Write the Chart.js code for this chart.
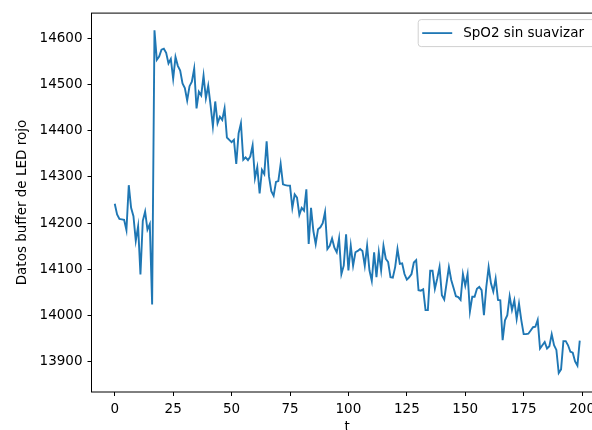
<!DOCTYPE html>
<html>
<head>
<meta charset="utf-8">
<script src="https://cdn.jsdelivr.net/npm/chart.js@4/dist/chart.umd.min.js"></script>
<style>
  html, body { margin: 0; padding: 0; background: #fff; overflow: hidden; }
  #wrap { width: 592px; height: 430px; overflow: hidden; }
</style>
</head>
<body>
<div id="wrap"><canvas id="spo2Chart" width="620" height="440"></canvas></div>
<script>
// values (t = 0..199)
const spo2Raw = [
  14242, 14219, 14209, 14208, 14207, 14185, 14282, 14233, 14215, 14162,
  14193, 14089, 14205, 14225, 14186, 14198, 14024, 14617, 14553, 14560,
  14575, 14577, 14568, 14545, 14555, 14512, 14559, 14540, 14530, 14502,
  14492, 14465, 14496, 14506, 14534, 14448, 14484, 14476, 14519, 14470,
  14497, 14455, 14409, 14463, 14416, 14430, 14423, 14448, 14385, 14380,
  14375, 14380, 14328, 14394, 14416, 14337, 14342, 14336, 14344, 14368,
  14297, 14321, 14264, 14315, 14306, 14377, 14301, 14269, 14259, 14289,
  14291, 14328, 14284, 14282, 14281, 14281, 14233, 14262, 14255, 14218,
  14233, 14227, 14273, 14155, 14233, 14183, 14155, 14187, 14191, 14200,
  14224, 14144, 14151, 14167, 14147, 14137, 14167, 14090, 14108, 14176,
  14098, 14151, 14108, 14137, 14140, 14144, 14140, 14108, 14151, 14098,
  14075, 14137, 14083, 14137, 14098, 14151, 14123, 14116, 14083, 14082,
  14105, 14144, 14112, 14113, 14090, 14078, 14083, 14090, 14115, 14120,
  14055, 14054, 14057, 14012, 14012, 14097, 14097, 14058, 14080, 14105,
  14044, 14035, 14070, 14105, 14077, 14060, 14042, 14040, 14034, 14090,
  14065, 14090, 14009, 14041, 14041, 14058, 14062, 14055, 14001, 14062,
  14105, 14070, 14052, 14080, 14034, 14033, 13947, 13990, 14001, 14042,
  14012, 14033, 13993, 14026, 13990, 13960, 13960, 13961, 13968, 13975,
  13976, 13991, 13929, 13936, 13943, 13929, 13934, 13960, 13936, 13926,
  13876, 13884, 13945, 13945, 13936, 13922, 13920, 13901, 13892, 13946
];
const xTicks = [0, 25, 50, 75, 100, 125, 150, 175, 200];
const yTicks = [13900, 14000, 14100, 14200, 14300, 14400, 14500, 14600];
const seriesLabel = "SpO2 sin suavizar";
const xTitle = "t";
const yTitle = "Datos buffer de LED rojo";

const points = spo2Raw.map((v, i) => ({ x: i, y: v }));
const font = { family: "DejaVu Sans", size: 13.5 };

// matplotlib-like frame and in-axes legend
const framePlugin = {
  id: "frame",
  afterDraw(chart) {
    const { ctx, chartArea: a } = chart;
    ctx.save();
    ctx.strokeStyle = "#000";
    ctx.lineWidth = 1;
    ctx.strokeRect(a.left, a.top, a.right - a.left, a.bottom - a.top);

    ctx.font = "13.5px 'DejaVu Sans'";
    const tw = ctx.measureText(seriesLabel).width;
    const w = 45 + tw + 12;
    const h = 27;
    const x = a.right - 7 - w;
    const y = a.top + 6.5;
    ctx.beginPath();
    ctx.roundRect(x, y, w, h, 3);
    ctx.fillStyle = "rgba(255,255,255,0.8)";
    ctx.fill();
    ctx.strokeStyle = "#d0d0d0";
    ctx.stroke();
    ctx.beginPath();
    ctx.moveTo(x + 4, y + h / 2);
    ctx.lineTo(x + 34, y + h / 2);
    ctx.strokeStyle = "#1f77b4";
    ctx.lineWidth = 1.8;
    ctx.stroke();
    ctx.fillStyle = "#000";
    ctx.textBaseline = "middle";
    ctx.fillText(seriesLabel, x + 45, y + h / 2 + 0.5);
    ctx.restore();
  }
};

new Chart(document.getElementById("spo2Chart"), {
  type: "line",
  data: {
    datasets: [
      {
        label: seriesLabel,
        data: points,
        borderColor: "#1f77b4",
        borderWidth: 1.9,
        pointRadius: 0,
        tension: 0,
        fill: false,
      },
    ],
  },
  options: {
    responsive: false,
    animation: false,
    devicePixelRatio: 1,
    layout: { padding: { top: 12, right: 17, left: 0, bottom: 0 } },
    plugins: {
      legend: { display: false },
      tooltip: { enabled: false },
    },
    scales: {
      x: {
        type: "linear",
        min: -9.95,
        max: 208.95,
        afterBuildTicks: (s) => { s.ticks = xTicks.map((v) => ({ value: v })); },
        afterFit: (s) => { s.height = 48; },
        grid: { drawOnChartArea: false, drawTicks: true, tickLength: 4, color: "#000" },
        border: { display: false },
        ticks: { color: "#000", font: font, padding: 5, maxRotation: 0, autoSkip: false },
        title: { display: true, text: xTitle, color: "#000", font: font, padding: { top: 7 } },
      },
      y: {
        min: 13835,
        max: 14654,
        afterBuildTicks: (s) => { s.ticks = yTicks.map((v) => ({ value: v })); },
        afterFit: (s) => { s.width = 91.5; },
        grid: { drawOnChartArea: false, drawTicks: true, tickLength: 4, color: "#000" },
        border: { display: false },
        ticks: { color: "#000", font: font, padding: 5, autoSkip: false, callback: (v) => String(v) },
        title: { display: true, text: yTitle, color: "#000", font: font, padding: { top: 14 } },
      },
    },
  },
  plugins: [framePlugin],
});
</script>
</body>
</html>
